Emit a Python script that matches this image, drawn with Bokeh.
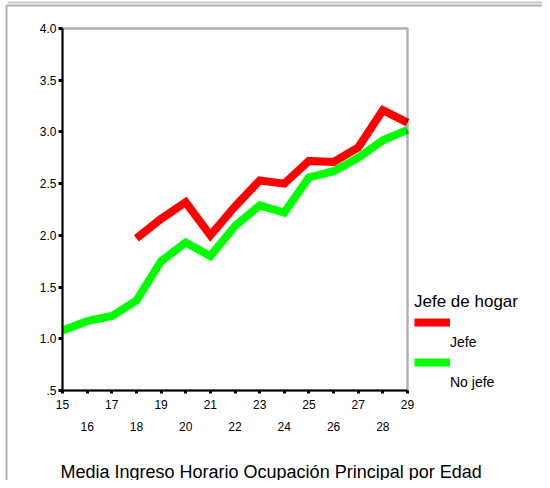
from bokeh.plotting import figure
from bokeh.models import (Range1d, FixedTicker, LinearAxis, Legend, LegendItem,
                          Label, BoxAnnotation)
from bokeh.embed import file_html
from bokeh.resources import INLINE

nan = float("nan")

# ---- data ----
edad = list(range(15, 30))
jefe = [nan, nan, nan, 1.97, 2.16, 2.32, 2.00, 2.28, 2.53, 2.50, 2.72, 2.71, 2.85, 3.21, 3.09]
no_jefe = [1.08, 1.17, 1.22, 1.37, 1.75, 1.93, 1.80, 2.09, 2.29, 2.22, 2.56, 2.62, 2.75, 2.92, 3.02]

x_ticks_odd = [15, 17, 19, 21, 23, 25, 27, 29]
x_ticks_even = [16, 18, 20, 22, 24, 26, 28]
y_ticks = [0.5, 1.0, 1.5, 2.0, 2.5, 3.0, 3.5, 4.0]
y_tick_labels = [".5", "1.0", "1.5", "2.0", "2.5", "3.0", "3.5", "4.0"]

legend_title = "Jefe de hogar"
series_names = ["Jefe", "No jefe"]
chart_title = "Media Ingreso Horario Ocupación Principal por Edad"

# ---- layout (picture pixels) ----
W, H = 542, 480
BOX_L, BOX_R, BOX_T, BOX_B = 62, 407, 28, 390   # plot box on the picture
X0, X1 = 15, 29
Y0, Y1 = 0.5, 4.0
FONT = "Liberation Sans"

def px2x(px):
    return X0 + (px - BOX_L) * (X1 - X0) / (BOX_R - BOX_L)

def py2y(py):
    return Y0 + (BOX_B - py) * (Y1 - Y0) / (BOX_B - BOX_T)

# the frame covers the whole canvas; the plot box sits inside it
p = figure(width=W, height=H, output_backend="svg", toolbar_location=None,
           x_range=Range1d(px2x(0), px2x(W)), y_range=Range1d(py2y(H), py2y(0)),
           x_axis_location=None, y_axis_location=None,
           min_border=0, min_border_left=0, min_border_right=0,
           min_border_top=0, min_border_bottom=0)
p.xgrid.visible = False
p.ygrid.visible = False
p.outline_line_color = None
p.background_fill_color = "white"
p.border_fill_color = "white"

# outer frame of the page (left/top edges) and plot box
p.add_layout(BoxAnnotation(left=px2x(7), right=px2x(W + 50), top=py2y(3), bottom=py2y(1),
                           fill_color="#c8c8c8", fill_alpha=1, line_alpha=0))
p.add_layout(BoxAnnotation(left=px2x(6), right=px2x(W + 50), top=py2y(5), bottom=py2y(H + 50),
                           fill_alpha=0, line_color="black", line_width=2))
p.add_layout(BoxAnnotation(left=X0, right=X1, bottom=Y0, top=Y1,
                           fill_alpha=0, line_color="black", line_width=2.5))

# y axis
ya = LinearAxis(fixed_location=X0, bounds=(Y0, Y1), ticker=FixedTicker(ticks=y_ticks),
                major_label_overrides={t: l for t, l in zip(y_ticks, y_tick_labels)})
ya.major_tick_in = 0
ya.major_tick_out = 4
ya.major_tick_line_width = 3
ya.minor_tick_line_color = None
ya.axis_line_width = 2
ya.major_label_standoff = 2
ya.major_label_text_font = FONT
ya.major_label_text_font_size = "12px"
ya.major_label_text_color = "black"
p.add_layout(ya, "left")

# x axis (odd labels, all tick marks)
xa = LinearAxis(fixed_location=Y0, bounds=(X0, X1), ticker=FixedTicker(ticks=edad),
                major_label_overrides={a: (str(a) if a in x_ticks_odd else "") for a in edad})
xa.major_tick_in = 0
xa.major_tick_out = 3
xa.major_tick_line_width = 3
xa.minor_tick_line_color = None
xa.axis_line_width = 2
xa.major_label_standoff = 6
xa.major_label_text_font = FONT
xa.major_label_text_font_size = "12px"
xa.major_label_text_color = "black"
p.add_layout(xa, "below")

# second x row (even labels)
xa2 = LinearAxis(fixed_location=Y0, bounds=(X0, X1), ticker=FixedTicker(ticks=x_ticks_even),
                 major_label_overrides={a: str(a) for a in x_ticks_even})
xa2.axis_line_color = None
xa2.major_tick_line_color = None
xa2.minor_tick_line_color = None
xa2.major_tick_in = 0
xa2.major_tick_out = 0
xa2.major_label_standoff = 31
xa2.major_label_text_font = FONT
xa2.major_label_text_font_size = "12px"
xa2.major_label_text_color = "black"
p.add_layout(xa2, "below")

# lines
r_green = p.line(edad, no_jefe, line_color="#00ff00", line_width=8,
                 line_join="miter", line_cap="butt")
r_red = p.line(edad, jefe, line_color="#ff0000", line_width=8,
               line_join="miter", line_cap="butt")
r_blank = p.line(x=[], y=[], line_alpha=0)

# legend (swatch rows and text rows, as in the original)
legend = Legend(items=[LegendItem(label=" ", renderers=[r_red]),
                       LegendItem(label=series_names[0], renderers=[r_blank]),
                       LegendItem(label=" ", renderers=[r_green]),
                       LegendItem(label=series_names[1], renderers=[r_blank])],
                title=legend_title, title_text_font=FONT, title_text_font_size="17px",
                title_text_font_style="normal", title_text_color="black", title_standoff=3,
                location=(414, H - 390), orientation="vertical",
                padding=0, margin=0, spacing=5, glyph_width=36, glyph_height=14,
                label_height=14, label_standoff=0,
                label_text_font=FONT, label_text_font_size="14px", label_text_color="black",
                border_line_alpha=0, background_fill_alpha=0)
p.add_layout(legend)

# chart title (bottom)
p.add_layout(Label(x=px2x(60), y=py2y(471), text=chart_title,
                   text_font=FONT, text_font_size="18px", text_baseline="alphabetic",
                   text_color="black"))

open("out.html", "w").write(file_html(p, INLINE))
